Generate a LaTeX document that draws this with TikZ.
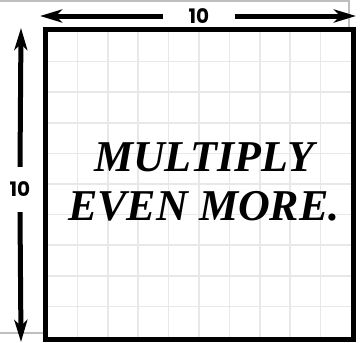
\documentclass[tikz,border=0pt]{standalone}
\usepackage{fontspec}
\setmainfont{Liberation Serif}
\newfontfamily\dimfont{Poppins}
\usetikzlibrary{arrows.meta,positioning}

\begin{document}
\begin{tikzpicture}[x=1pt,y=-1pt,>={Stealth[length=22pt,width=13pt,inset=6pt]}]
\tikzstyle{dim}=[line width=5pt,->]
\tikzstyle{dimlabel}=[font=\dimfont\bfseries\fontsize{20}{20}\selectfont,inner sep=0pt]
\tikzstyle{gridline}=[draw=black!9,line width=1.6pt]
\tikzstyle{frame}=[draw=black!25,line width=2.5pt]
\useasboundingbox (0,0) rectangle (360,343);
% frame of the page behind
\draw[frame] (0,1) -- (349,1) -- (349,27);
\draw[frame] (0,333) -- (44,333);
% light grid inside the square
\foreach \i in {1,...,9} {
 \draw[gridline] (47+\i*30.4,31) -- (47+\i*30.4,337);
 \draw[gridline] (47,31+\i*30.6) -- (351,31+\i*30.6);
}
\node[draw,line width=5pt,minimum width=308pt,minimum height=310pt] (board) at (199.5,184.5) {};
\node[align=center,font=\bfseries\itshape\fontsize{44}{49}\selectfont] (words) at (204,182) {MULTIPLY\\EVEN MORE.};
% dimensions
\node[dimlabel,minimum width=71pt] (top10) at (199,16) {10};
\coordinate (topl) at (40,16);
\coordinate (topr) at (356,16);
\draw[dim] (top10) -- (topl);
\draw[dim] (top10) -- (topr);
\node[dimlabel,minimum height=45pt] (left10) at (20,189.5) {10};
\coordinate (leftt) at (21,28);
\coordinate (leftb) at (21,342);
\draw[dim] (left10.north) -- (leftt);
\draw[dim] (left10.south) -- (leftb);
\end{tikzpicture}
\end{document}
